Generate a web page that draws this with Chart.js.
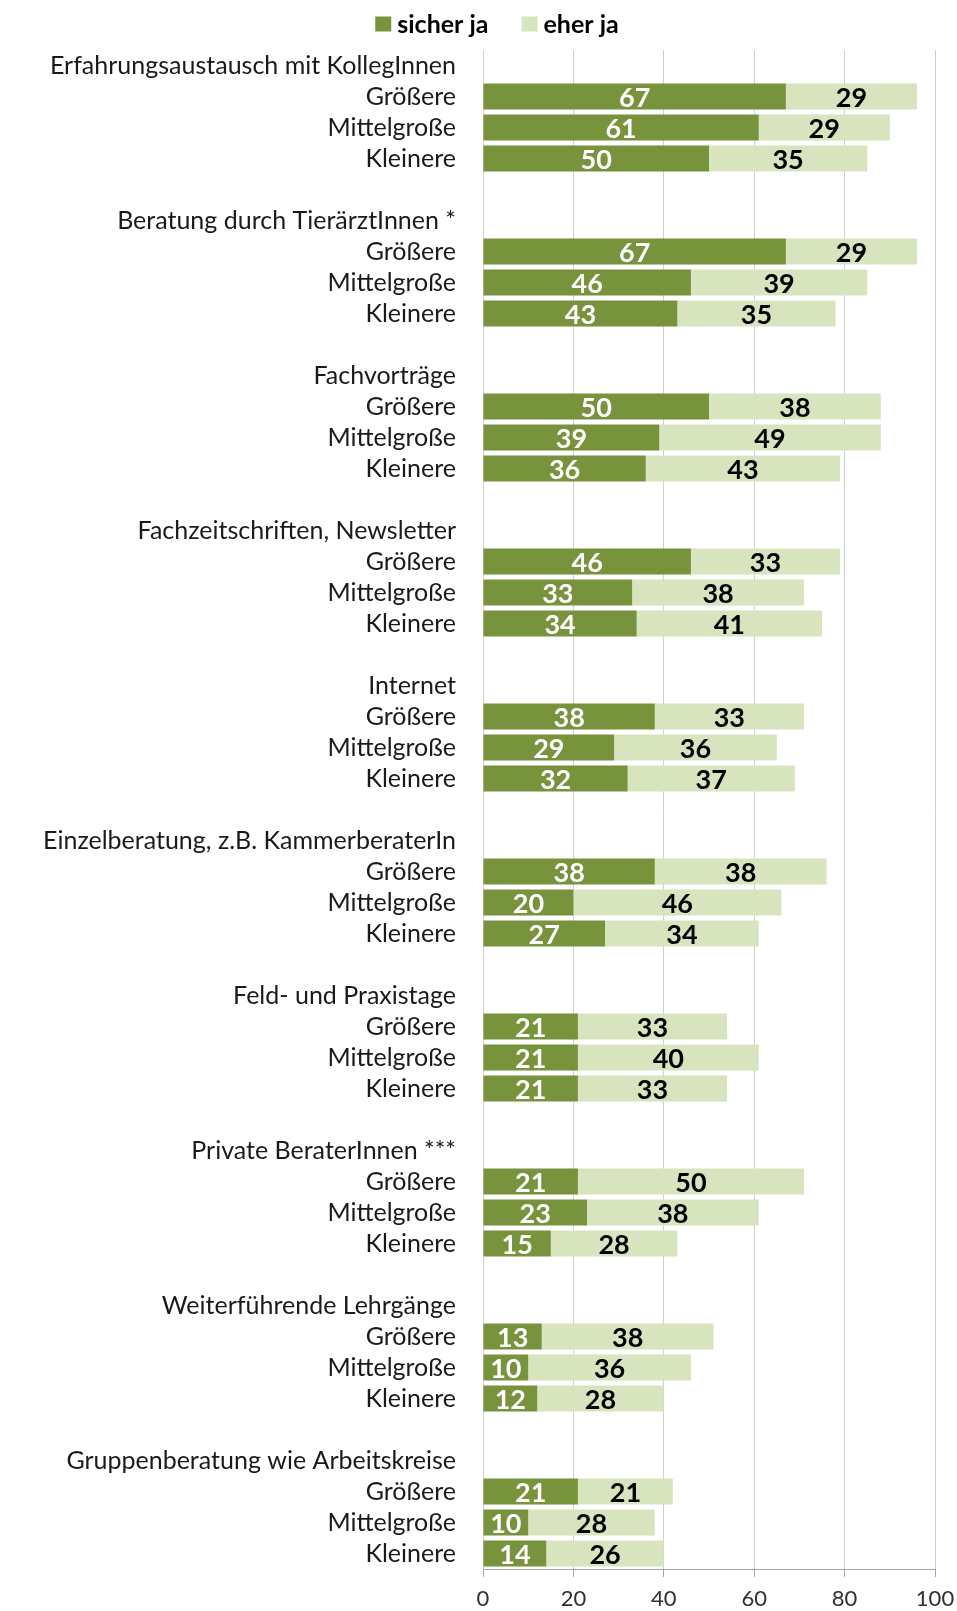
<!DOCTYPE html>
<html>
<head>
<meta charset="utf-8">
<script src="https://cdn.jsdelivr.net/npm/chart.js@4.4.1/dist/chart.umd.min.js"></script>
<style>
  html, body { margin: 0; padding: 0; background: #ffffff; }
  #wrap { width: 957px; height: 1611px; position: relative; }
</style>
</head>
<body>
<div id="wrap"><canvas id="chart"></canvas></div>
<script>
// Information sources, split by farm size class (percent of respondents)
const groupNames = [
  'Erfahrungsaustausch mit KollegInnen',
  'Beratung durch TierärztInnen *',
  'Fachvorträge',
  'Fachzeitschriften, Newsletter',
  'Internet',
  'Einzelberatung, z.B. KammerberaterIn',
  'Feld- und Praxistage',
  'Private BeraterInnen ***',
  'Weiterführende Lehrgänge',
  'Gruppenberatung wie Arbeitskreise'
];
const sizeClasses = ['Größere', 'Mittelgroße', 'Kleinere'];

// "sicher ja" per group: Größere, Mittelgroße, Kleinere
const sicherJa = [
  [67, 61, 50],
  [67, 46, 43],
  [50, 39, 36],
  [46, 33, 34],
  [38, 29, 32],
  [38, 20, 27],
  [21, 21, 21],
  [21, 23, 15],
  [13, 10, 12],
  [21, 10, 14]
];
// "eher ja" per group: Größere, Mittelgroße, Kleinere
const eherJa = [
  [29, 29, 35],
  [29, 39, 35],
  [38, 49, 43],
  [33, 38, 41],
  [33, 36, 37],
  [38, 46, 34],
  [33, 40, 33],
  [50, 38, 28],
  [38, 36, 28],
  [21, 28, 26]
];
const seriesNames = ['sicher ja', 'eher ja'];
const seriesColors = ['#77933c', '#d7e4bd'];
const xTickValues = [0, 20, 40, 60, 80, 100];

const FONT = 'Lato, "Open Sans", sans-serif';

// One axis row per label: group heading, three size classes, blank spacer between groups
const rowLabels = [];
const rowSicher = [];
const rowEher = [];
groupNames.forEach((name, g) => {
  if (g > 0) { rowLabels.push(''); rowSicher.push(null); rowEher.push(null); }
  rowLabels.push(name); rowSicher.push(null); rowEher.push(null);
  sizeClasses.forEach((cls, k) => {
    rowLabels.push(cls);
    rowSicher.push(sicherJa[g][k]);
    rowEher.push(eherJa[g][k]);
  });
});

// Value written in the middle of every bar segment
const segmentValues = {
  id: 'segmentValues',
  afterDatasetsDraw(chart) {
    const ctx = chart.ctx;
    chart.data.datasets.forEach((ds, di) => {
      const meta = chart.getDatasetMeta(di);
      meta.data.forEach((bar, i) => {
        const v = ds.data[i];
        if (v === null || v === undefined) return;
        const p = bar.getProps(['x', 'y', 'base'], true);
        ctx.save();
        ctx.font = 'bold 27px ' + FONT;
        ctx.fillStyle = di === 0 ? '#ffffff' : '#000000';
        ctx.textAlign = 'center';
        ctx.textBaseline = 'middle';
        ctx.fillText(String(v), (p.x + p.base) / 2, p.y + 2);
        ctx.restore();
      });
    });
  }
};

// Compact legend above the plot: square swatch close to its label
const topLegend = {
  id: 'topLegend',
  afterDraw(chart) {
    const ctx = chart.ctx;
    const box = 16, boxH = 15, gapText = 6, gapItem = 33;
    const cy = 24, cx = 497;
    ctx.save();
    ctx.font = 'bold 25px ' + FONT;
    ctx.textBaseline = 'middle';
    ctx.textAlign = 'left';
    const items = chart.data.datasets.map(ds => ({
      text: ds.label, color: ds.backgroundColor, w: ctx.measureText(ds.label).width
    }));
    const total = items.reduce((s, it) => s + box + gapText + it.w, 0) + gapItem * (items.length - 1);
    let x = cx - total / 2;
    items.forEach(it => {
      ctx.fillStyle = it.color;
      ctx.fillRect(x, cy - boxH / 2, box, boxH);
      ctx.fillStyle = '#000000';
      ctx.fillText(it.text, x + box + gapText, cy + 1);
      x += box + gapText + it.w + gapItem;
    });
    ctx.restore();
  }
};

new Chart(document.getElementById('chart'), {
  type: 'bar',
  data: {
    labels: rowLabels,
    datasets: [
      { label: seriesNames[0], data: rowSicher, backgroundColor: seriesColors[0], borderWidth: 0 },
      { label: seriesNames[1], data: rowEher, backgroundColor: seriesColors[1], borderWidth: 0 }
    ]
  },
  options: {
    indexAxis: 'y',
    responsive: true,
    maintainAspectRatio: false,
    animation: false,
    datasets: { bar: { categoryPercentage: 1.0, barPercentage: 0.84 } },
    layout: { padding: { top: 50, right: 22, bottom: 0, left: 0 } },
    plugins: {
      legend: { display: false },
      tooltip: { enabled: false }
    },
    scales: {
      x: {
        stacked: true,
        min: 0,
        max: 100,
        afterBuildTicks(scale) { scale.ticks = xTickValues.map(v => ({ value: v })); },
        afterFit(scale) {
          scale.height = 42;
          scale.paddingLeft = 0;
          scale.paddingRight = 0;
        },
        grid: { color: '#cfcfcf', tickColor: '#a6a6a6', tickLength: 8, lineWidth: 1 },
        border: { display: true, color: '#a6a6a6', width: 1 },
        ticks: { font: { family: FONT, size: 22 }, color: '#303030', padding: 9 }
      },
      y: {
        stacked: true,
        afterFit(scale) { scale.width = 483; },
        grid: { display: false, drawTicks: false },
        border: { display: false },
        ticks: {
          autoSkip: false,
          font: { family: FONT, size: 25 },
          color: '#1a1a1a',
          padding: 27
        }
      }
    }
  },
  plugins: [segmentValues, topLegend]
});
</script>
</body>
</html>
